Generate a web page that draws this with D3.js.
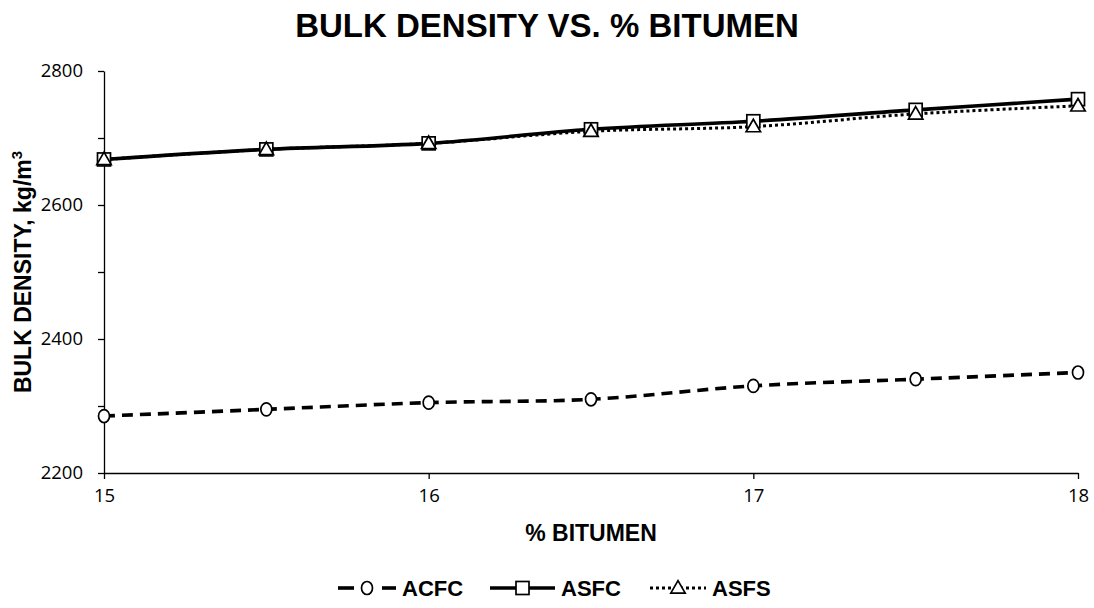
<!DOCTYPE html>
<html lang="en">
<head>
<meta charset="UTF-8">
<title>Bulk density vs % bitumen</title>
<style>
  body { margin: 0; background: #fff; }
  svg { display: block; font-family: "Liberation Sans", Arial, sans-serif; }
</style>
</head>
<body>
<script src="https://cdn.jsdelivr.net/npm/d3@7/dist/d3.min.js"></script>
<script>
// data
var bitumen = [15, 15.5, 16, 16.5, 17, 17.5, 18];
var acfc = [2285, 2295, 2305, 2310, 2330, 2340, 2350];
var asfc = [2668, 2683, 2692, 2713, 2725, 2742, 2758];
var asfs = [2668, 2683, 2692, 2710, 2717, 2736, 2748];
var xTicks = [15, 16, 17, 18];
var yTicks = [2200, 2300, 2400, 2500, 2600, 2700, 2800];
var yLabels = [2200, 2400, 2600, 2800];

var W = 1094, H = 608;
var plot = { left: 104, right: 1078, top: 71, bottom: 473 };

var svg = d3.select("body").append("svg")
    .attr("width", W)
    .attr("height", H);

var x = d3.scaleLinear().domain([15, 18]).range([plot.left, plot.right]);
var y = d3.scaleLinear().domain([2200, 2800]).range([plot.bottom, plot.top]);

// title
svg.append("text")
    .attr("x", 547).attr("y", 37)
    .attr("text-anchor", "middle")
    .style("font-size", "33px").style("font-weight", "bold")
    .text("BULK DENSITY VS. % BITUMEN");

// y axis
var yAxis = d3.axisLeft(y).tickValues(yTicks).tickSize(6).tickSizeOuter(0)
    .tickFormat(function (d) { return yLabels.indexOf(d) >= 0 ? d : ""; });
var gy = svg.append("g").attr("transform", "translate(" + plot.left + ",0)").call(yAxis);
gy.select(".domain").attr("stroke", "#000").attr("stroke-width", 1.3);
gy.selectAll(".tick line").attr("stroke", "#000").attr("stroke-width", 1.3);
gy.selectAll(".tick text").attr("x", -21).attr("fill", "#000")
    .style("font-size", "18.5px").style("font-family", "'Open Sans', sans-serif");

// x axis
var xAxis = d3.axisBottom(x).tickValues(xTicks).tickSize(6).tickSizeOuter(0)
    .tickFormat(d3.format("d"));
var gx = svg.append("g").attr("transform", "translate(0," + plot.bottom + ")").call(xAxis);
gx.select(".domain").attr("stroke", "#000").attr("stroke-width", 1.3);
gx.selectAll(".tick line").attr("stroke", "#000").attr("stroke-width", 1.3);
gx.selectAll(".tick text").attr("y", 16).attr("fill", "#000")
    .style("font-size", "18.5px").style("font-family", "'Open Sans', sans-serif");

// axis titles
svg.append("text")
    .attr("x", 591).attr("y", 541)
    .attr("text-anchor", "middle")
    .style("font-size", "23px").style("font-weight", "bold")
    .text("% BITUMEN");

var yt = svg.append("text")
    .attr("transform", "translate(31,272) rotate(-90)")
    .attr("text-anchor", "middle")
    .style("font-size", "23px").style("font-weight", "bold");
yt.append("tspan").text("BULK DENSITY, kg/m");
yt.append("tspan").attr("dy", -9).style("font-size", "15px").text("3");

// series
var series = [
  { name: "ACFC", values: acfc, dash: "11,7", width: 3.6, marker: "circle" },
  { name: "ASFC", values: asfc, dash: null, width: 3.6, marker: "square" },
  { name: "ASFS", values: asfs, dash: "3,3", width: 3, marker: "triangle" }
];

var line = d3.line()
    .x(function (d) { return x(d[0]); })
    .y(function (d) { return y(d[1]); })
    .curve(d3.curveCatmullRom.alpha(0.5));

function drawMarker(g, type, cx, cy) {
  if (type === "circle") {
    g.append("ellipse").attr("cx", cx).attr("cy", cy).attr("rx", 5.5).attr("ry", 6.5)
      .attr("fill", "#fff").attr("stroke", "#000").attr("stroke-width", 1.7);
  } else if (type === "square") {
    g.append("rect").attr("x", cx - 6.5).attr("y", cy - 6.5).attr("width", 13).attr("height", 13)
      .attr("fill", "#fff").attr("stroke", "#000").attr("stroke-width", 1.7);
  } else {
    var s = d3.symbol().type(d3.symbolTriangle).size(90);
    g.append("path").attr("d", s()).attr("transform", "translate(" + cx + "," + (cy + 1) + ")")
      .attr("fill", "#fff").attr("stroke", "#000").attr("stroke-width", 1.7);
  }
}

series.forEach(function (s) {
  var pts = bitumen.map(function (b, i) { return [b, s.values[i]]; });
  svg.append("path")
      .attr("d", line(pts))
      .attr("fill", "none")
      .attr("stroke", "#000")
      .attr("stroke-width", s.width)
      .attr("stroke-dasharray", s.dash);
});
series.forEach(function (s) {
  var g = svg.append("g");
  bitumen.forEach(function (b, i) { drawMarker(g, s.marker, x(b), y(s.values[i])); });
});

// legend
var legendX = [338, 490, 650];
var legendW = [58, 65, 56];
series.forEach(function (s, i) {
  var g = svg.append("g").attr("transform", "translate(" + legendX[i] + ",588)");
  var w = legendW[i];
  if (s.name === "ACFC") {
    g.append("line").attr("x1", 0).attr("x2", 16).attr("y1", 0).attr("y2", 0)
      .attr("stroke", "#000").attr("stroke-width", s.width);
    g.append("line").attr("x1", w - 14).attr("x2", w).attr("y1", 0).attr("y2", 0)
      .attr("stroke", "#000").attr("stroke-width", s.width);
  } else {
    g.append("line").attr("x1", 0).attr("x2", w).attr("y1", 0).attr("y2", 0)
      .attr("stroke", "#000").attr("stroke-width", s.width)
      .attr("stroke-dasharray", s.dash);
  }
  drawMarker(g, s.marker, w / 2, 0);
  g.append("text").attr("x", w + 6).attr("y", 8)
    .style("font-size", "22px").style("font-weight", "bold")
    .text(s.name);
});
</script>
</body>
</html>
